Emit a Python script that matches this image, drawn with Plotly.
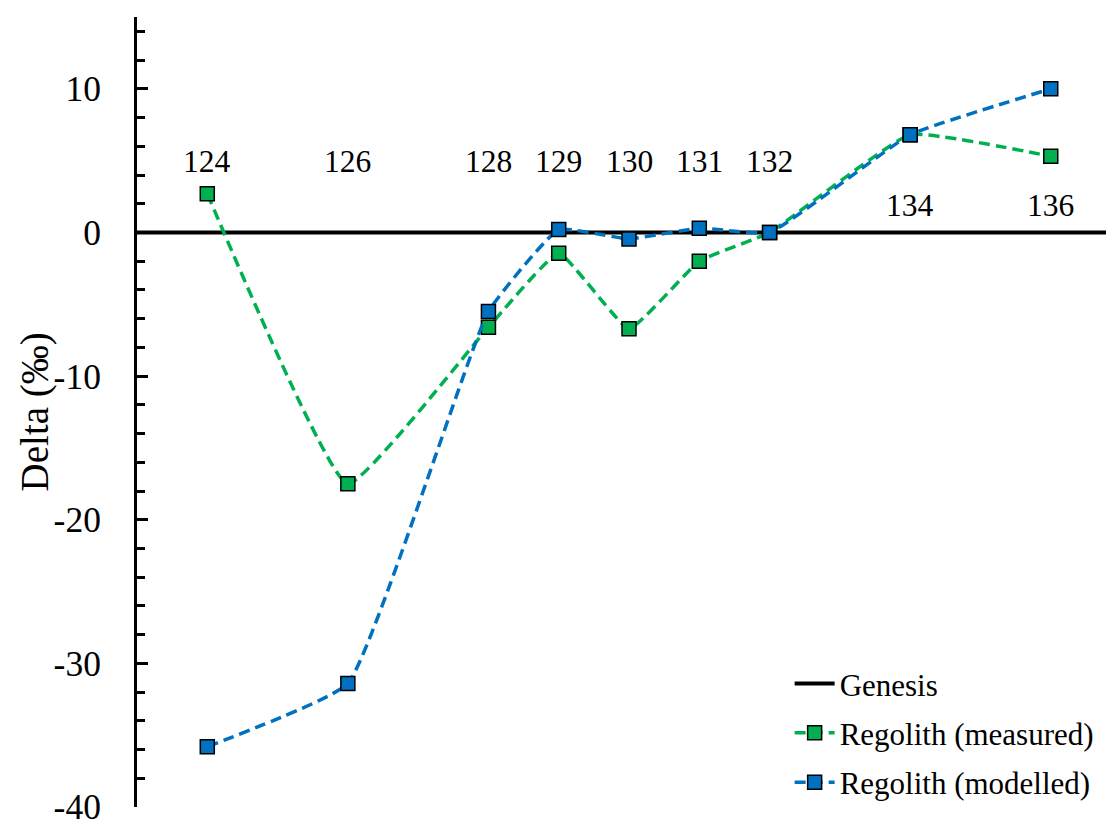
import plotly.graph_objects as go

masses = [124, 126, 128, 129, 130, 131, 132, 134, 136]
measured = [2.7, -17.5, -6.6, -1.45, -6.7, -2.0, 0.0, 6.8, 5.3]
modelled = [-35.8, -31.4, -5.5, 0.2, -0.45, 0.3, 0.0, 6.8, 10.0]
genesis_x = [123, 137]
genesis_y = [0, 0]

label_text = ["124", "126", "128", "129", "130", "131", "132", "134", "136"]
label_y = [4.95, 4.95, 4.95, 4.95, 4.95, 4.95, 4.95, 1.9, 1.9]

y_ticks = [-40, -30, -20, -10, 0, 10]
y_ticktext = ["-40", "-30", "-20", "-10", "0", "10"]

GREEN = "#00B050"
BLUE = "#0070C0"
FONT = "Liberation Serif"

fig = go.Figure()
fig.add_trace(go.Scatter(
    x=genesis_x, y=genesis_y, mode="lines", name="Genesis",
    line=dict(color="black", width=4), legendgroup="g1",
))
fig.add_trace(go.Scatter(
    x=masses, y=measured, mode="lines+markers", name="Regolith (measured)",
    line=dict(color=GREEN, width=3.5, dash="11px,6px", shape="spline", smoothing=0.35),
    marker=dict(symbol="square", size=14, color=GREEN, line=dict(color="black", width=1.5)),
    legendgroup="g2",
))
fig.add_trace(go.Scatter(
    x=masses, y=modelled, mode="lines+markers", name="Regolith (modelled)",
    line=dict(color=BLUE, width=3.5, dash="11px,6px", shape="spline", smoothing=0.35),
    marker=dict(symbol="square", size=14, color=BLUE, line=dict(color="black", width=1.5)),
    legendgroup="g3",
))

for m, t, yy in zip(masses, label_text, label_y):
    fig.add_annotation(x=m, y=yy, text=t, showarrow=False,
                       font=dict(family=FONT, size=31.5, color="black"),
                       xanchor="center", yanchor="middle")

fig.add_annotation(xref="paper", yref="paper", x=-0.104, y=0.5,
                   text="Delta (‰)", textangle=-90, showarrow=False,
                   font=dict(family=FONT, size=39, color="black"),
                   xanchor="center", yanchor="middle")

fig.update_layout(
    width=1106, height=811,
    margin=dict(l=129, r=0, t=9, b=12, autoexpand=False),
    paper_bgcolor="white", plot_bgcolor="white",
    font=dict(family=FONT, color="black"),
    showlegend=True,
    legend=dict(x=0.668, y=0.19, xanchor="left", yanchor="top",
                font=dict(family=FONT, size=31, color="black"),
                bgcolor="rgba(0,0,0,0)", tracegroupgap=6, itemwidth=40),
    xaxis=dict(range=[123, 136.9], visible=False, showgrid=False, zeroline=False, automargin=False),
    yaxis=dict(range=[-40, 15], tickvals=y_ticks, ticktext=y_ticktext, automargin=False,
               showgrid=False, zeroline=False, showline=True, linecolor="black",
               linewidth=3, ticks="inside", ticklen=11, tickwidth=3, tickcolor="black",
               tickfont=dict(family=FONT, size=35.5, color="black"),
               ticklabelstandoff=26, ticklabeloverflow="allow",
               minor=dict(ticks="inside", ticklen=8, tickwidth=3, tickcolor="black", dtick=2, showgrid=False)),
)

fig.write_html("out.html")
